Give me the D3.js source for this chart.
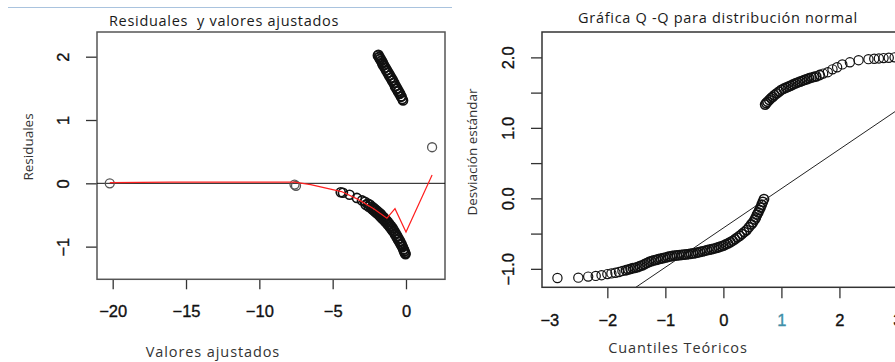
<!DOCTYPE html>
<html>
<head>
<meta charset="utf-8">
<script src="https://cdn.jsdelivr.net/npm/d3@7"></script>
<style>
  body { margin: 0; background: #fff; }
  svg { display: block; }
</style>
</head>
<body>
<svg id="chart" width="895" height="362"></svg>
<script>
// residuals vs fitted: isolated points
const fitSingles = [-20.2, -7.6, -7.5, 1.78]
const resSingles = [0.0, -0.02, -0.04, 0.57]

// lower band (fitted, residual)
const fitLow = [-4.45, -4.3, -3.85, -3.35, -3.0, -2.8, -2.6, -2.45, -2.3, -2.2, -2.1, -2.0, -1.9, -1.8, -1.7,
  -1.6, -1.5, -1.4, -1.3, -1.2, -1.1, -1.0, -0.9, -0.8, -0.7, -0.6, -0.5, -0.4, -0.3, -0.22, -0.15, -0.1, -0.05, -0.03,
  -2.75, -2.55, -2.35, -2.25, -2.15, -2.05, -1.95, -1.85, -1.75, -1.65, -1.55, -1.45, -1.35, -1.25, -1.15, -1.05,
  -0.95, -0.85, -0.75, -0.65, -0.55, -0.45, -0.35, -0.26, -0.18, -0.12, -0.07]
const resLow = [-0.14, -0.15, -0.18, -0.23, -0.27, -0.29, -0.32, -0.34, -0.37, -0.39, -0.41, -0.43, -0.45, -0.47, -0.49,
  -0.52, -0.54, -0.57, -0.59, -0.62, -0.65, -0.68, -0.71, -0.75, -0.79, -0.83, -0.87, -0.91, -0.96, -1.0, -1.04, -1.07, -1.1, -1.12,
  -0.34, -0.37, -0.40, -0.42, -0.44, -0.46, -0.48, -0.50, -0.53, -0.55, -0.57, -0.60, -0.62, -0.65, -0.68, -0.71,
  -0.74, -0.77, -0.81, -0.85, -0.89, -0.93, -0.97, -1.01, -1.05, -1.08, -1.11]

// upper band
const fitHigh = [-1.92, -1.85, -1.78, -1.7, -1.62, -1.55, -1.45, -1.35, -1.25, -1.15, -1.05, -0.95, -0.85, -0.75, -0.65,
  -0.55, -0.45, -0.35, -0.25, -0.2,
  -1.88, -1.81, -1.74, -1.66, -1.58, -1.5, -1.4, -1.3, -1.2, -1.1, -1.0, -0.9, -0.8, -0.7, -0.6, -0.5, -0.4, -0.3]
const resHigh = [2.02, 1.99, 1.96, 1.93, 1.89, 1.86, 1.82, 1.78, 1.74, 1.70, 1.66, 1.62, 1.58, 1.53, 1.49,
  1.45, 1.41, 1.37, 1.33, 1.31,
  2.03, 2.0, 1.97, 1.94, 1.91, 1.87, 1.83, 1.79, 1.75, 1.71, 1.67, 1.63, 1.59, 1.54, 1.50, 1.46, 1.42, 1.37]

// red smoother
const smoothX = [-20.2, -16, -7.6, -6.5, -4.4, -3.3, -2.2, -1.3, -0.75, 0.0, 1.78]
const smoothY = [0.01, 0.02, 0.02, -0.02, -0.13, -0.25, -0.40, -0.55, -0.40, -0.77, 0.13]

// Q-Q plot: theoretical quantiles and sample values
const qTheo = [-2.86, -2.5, -2.33, -2.2, -2.1, -2.0, -1.93, -1.86, -1.8, -1.74, -1.68,
  -1.64, -1.60, -1.56, -1.52, -1.48, -1.44, -1.40, -1.36, -1.32, -1.28, -1.24, -1.20, -1.16, -1.12, -1.08, -1.04,
  -1.00, -0.96, -0.92, -0.88, -0.84, -0.80, -0.76, -0.72, -0.68, -0.64, -0.60, -0.56, -0.52, -0.48, -0.44, -0.40,
  -0.36, -0.32, -0.28, -0.24, -0.20, -0.16, -0.12, -0.08, -0.04, 0.00, 0.04, 0.08, 0.12, 0.16, 0.20, 0.24, 0.28,
  0.32, 0.36, 0.40, 0.44, 0.48, 0.51, 0.54, 0.56, 0.58, 0.60, 0.62, 0.64, 0.66, 0.68, 0.70,
  0.72, 0.74, 0.76, 0.79, 0.82, 0.85, 0.88, 0.92, 0.96, 1.00, 1.04, 1.08, 1.12, 1.16, 1.20, 1.24, 1.28, 1.32,
  1.36, 1.40, 1.44, 1.48, 1.52, 1.56, 1.60,
  1.66, 1.72, 1.8, 1.88, 1.96, 2.05, 2.18, 2.33, 2.5, 2.6, 2.68, 2.76, 2.85, 2.95]
const qSample = [-1.13, -1.125, -1.11, -1.10, -1.09, -1.075, -1.065, -1.055, -1.045, -1.03, -1.02,
  -1.01, -1.00, -0.99, -0.985, -0.975, -0.962, -0.95, -0.935, -0.918, -0.903, -0.892, -0.88, -0.872, -0.864, -0.856, -0.848,
  -0.84, -0.832, -0.824, -0.818, -0.814, -0.81, -0.806, -0.802, -0.798, -0.794, -0.79, -0.786, -0.782, -0.776, -0.768, -0.76,
  -0.752, -0.744, -0.736, -0.728, -0.72, -0.712, -0.704, -0.694, -0.682, -0.67, -0.655, -0.64, -0.622, -0.602, -0.58, -0.556, -0.532,
  -0.506, -0.478, -0.45, -0.41, -0.37, -0.34, -0.30, -0.27, -0.23, -0.20, -0.165, -0.13, -0.09, -0.05, -0.01,
  1.33, 1.35, 1.37, 1.395, 1.42, 1.44, 1.465, 1.49, 1.515, 1.54, 1.555, 1.57, 1.585, 1.60, 1.615, 1.63, 1.643, 1.656,
  1.668, 1.68, 1.692, 1.704, 1.714, 1.722, 1.73,
  1.75, 1.77, 1.79, 1.83, 1.86, 1.90, 1.93, 1.96, 1.975, 1.98, 1.985, 1.99, 1.995, 2.0]
const qqIntercept = -0.42
const qqSlope = 0.558

// ticks
const resXTicks = [-20, -15, -10, -5, 0]
const resYTicks = [-1, 0, 1, 2]
const qqXTicks = [-3, -2, -1, 0, 1, 2, 3]
const qqYTicks = [-1, -0.5, 0, 0.5, 1, 1.5, 2]

const svg = d3.select('#chart')
const tickFont = '"Liberation Sans", Arial, sans-serif'
const textFont = '"Open Sans", "Noto Sans", sans-serif'

svg.append('rect').attr('width', 895).attr('height', 362).attr('fill', '#fff')

// thin document rule at top
svg.append('line')
  .attr('x1', 8).attr('x2', 452).attr('y1', 7.5).attr('y2', 7.5)
  .attr('stroke', '#a9c3de').attr('stroke-width', 1)

function panel(box, xDomain, yDomain, opts) {
  const x = d3.scaleLinear().domain(xDomain).range([box.left, box.right])
  const y = d3.scaleLinear().domain(yDomain).range([box.bottom, box.top])
  const g = svg.append('g')

  const clipId = 'clip' + opts.id
  svg.append('clipPath').attr('id', clipId)
    .append('rect')
    .attr('x', box.left).attr('y', box.top)
    .attr('width', box.right - box.left).attr('height', box.bottom - box.top)

  const xAxis = g.append('g')
    .attr('transform', `translate(0,${box.bottom})`)
    .call(d3.axisBottom(x).tickValues(opts.xTicks).tickSize(opts.tickLen).tickFormat(opts.xFormat))
  xAxis.select('.domain').remove()
  xAxis.selectAll('.tick line').attr('stroke', '#333').attr('stroke-width', 1.3)
  xAxis.selectAll('.tick text')
    .attr('y', opts.xLabOffset).attr('dy', 0)
    .attr('font-family', tickFont).attr('font-size', 16.5).attr('fill', '#111')
    .attr('stroke', '#111').attr('stroke-width', 0.35)

  const yAxis = g.append('g')
    .attr('transform', `translate(${box.left},0)`)
    .call(d3.axisLeft(y).tickValues(opts.yTicks).tickSize(11).tickFormat(opts.yFormat))
  yAxis.select('.domain').remove()
  yAxis.selectAll('.tick line').attr('stroke', '#333').attr('stroke-width', 1.3)
  yAxis.selectAll('.tick text')
    .attr('transform', 'rotate(-90)')
    .attr('x', 0).attr('y', -28).attr('dy', 0)
    .attr('text-anchor', 'middle')
    .attr('font-family', tickFont).attr('font-size', 16.5).attr('fill', '#111')
    .attr('stroke', '#111').attr('stroke-width', 0.35)

  g.append('rect')
    .attr('x', box.left).attr('y', box.top)
    .attr('width', box.right - box.left).attr('height', box.bottom - box.top)
    .attr('fill', 'none').attr('stroke', opts.boxColor).attr('stroke-width', 1.5)

  const plot = svg.append('g').attr('clip-path', `url(#${clipId})`)

  svg.append('text')
    .attr('x', opts.titleX).attr('y', opts.titleY)
    .attr('text-anchor', 'middle')
    .attr('font-family', textFont).attr('font-size', 14.5).attr('letter-spacing', 0.7)
    .attr('fill', '#1a1a1a')
    .text(opts.title)

  svg.append('text')
    .attr('x', opts.xLabX).attr('y', opts.xLabY)
    .attr('text-anchor', 'middle')
    .attr('font-family', textFont).attr('font-size', 14.5).attr('letter-spacing', 0.9)
    .attr('fill', '#333')
    .text(opts.xLab)

  svg.append('text')
    .attr('transform', `translate(${opts.yLabX},${opts.yLabY}) rotate(-90)`)
    .attr('text-anchor', 'middle')
    .attr('font-family', textFont).attr('font-size', 13.5).attr('fill', '#333')
    .text(opts.yLab)

  return { x, y, g, plot, xAxis }
}

// ---- left: residuals vs fitted ----
const left = panel(
  { left: 97, right: 445, top: 32, bottom: 279.3 },
  [-21.07, 2.66], [-1.516, 2.39],
  {
    id: 'L', xTicks: resXTicks, yTicks: resYTicks, tickLen: 10, xLabOffset: 38,
    xFormat: d3.format('d'), yFormat: d3.format('d'), boxColor: '#555',
    title: 'Residuales\u00a0 y valores ajustados', titleX: 224, titleY: 26,
    xLab: 'Valores ajustados', xLabX: 213, xLabY: 357,
    yLab: 'Residuales', yLabX: 33, yLabY: 147
  }
)

left.plot.append('line')
  .attr('x1', 97).attr('x2', 445)
  .attr('y1', left.y(0)).attr('y2', left.y(0))
  .attr('stroke', '#111').attr('stroke-width', 1)

const resPts = []
fitLow.forEach((v, i) => resPts.push([v, resLow[i]]))
fitHigh.forEach((v, i) => resPts.push([v, resHigh[i]]))
left.plot.selectAll('circle.c').data(resPts).join('circle')
  .attr('cx', d => left.x(d[0])).attr('cy', d => left.y(d[1])).attr('r', 4.5)
  .attr('fill', 'none').attr('stroke', '#111').attr('stroke-width', 1.6)

left.plot.selectAll('circle.s').data(fitSingles.map((v, i) => [v, resSingles[i]])).join('circle')
  .attr('cx', d => left.x(d[0])).attr('cy', d => left.y(d[1])).attr('r', 4.5)
  .attr('fill', 'none').attr('stroke', '#555').attr('stroke-width', 1.3)

left.plot.append('path')
  .datum(smoothX.map((v, i) => [v, smoothY[i]]))
  .attr('d', d3.line().x(d => left.x(d[0])).y(d => left.y(d[1])))
  .attr('fill', 'none').attr('stroke', '#ff2020').attr('stroke-width', 1.2)

// ---- right: normal Q-Q ----
const right = panel(
  { left: 542, right: 905, top: 32, bottom: 287.3 },
  [-3.126, 3.13], [-1.262, 2.36],
  {
    id: 'R', xTicks: qqXTicks, yTicks: qqYTicks, tickLen: 11, xLabOffset: 39,
    xFormat: d3.format('d'),
    yFormat: d => Number.isInteger(d) ? d3.format('.1f')(d) : '',
    boxColor: '#333',
    title: 'Gráfica Q -Q para distribución normal', titleX: 718, titleY: 23,
    xLab: 'Cuantiles Teóricos', xLabX: 678, xLabY: 353,
    yLab: 'Desviación estándar', yLabX: 477, yLabY: 152
  }
)
right.xAxis.selectAll('.tick').filter(d => d === -3).select('line').remove()
right.xAxis.selectAll('.tick').filter(d => d === 1).select('text')
  .attr('fill', '#3f8fa8').attr('stroke', '#3f8fa8')

right.plot.append('line')
  .attr('x1', right.x(-3.126)).attr('x2', right.x(3.13))
  .attr('y1', right.y(qqIntercept + qqSlope * -3.126))
  .attr('y2', right.y(qqIntercept + qqSlope * 3.13))
  .attr('stroke', '#222').attr('stroke-width', 1)

right.plot.selectAll('circle').data(qTheo.map((v, i) => [v, qSample[i]])).join('circle')
  .attr('cx', d => right.x(d[0])).attr('cy', d => right.y(d[1])).attr('r', 4.6)
  .attr('fill', 'none').attr('stroke', '#111').attr('stroke-width', d => d[0] < -1.7 || d[0] > 1.7 ? 1.2 : 1.6)
</script>
</body>
</html>
